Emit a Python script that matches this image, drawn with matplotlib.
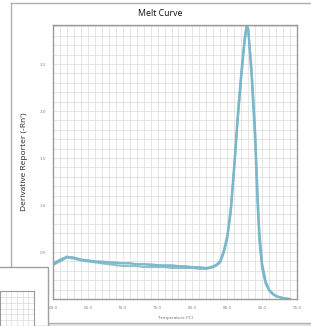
import numpy as np
import matplotlib.pyplot as plt
from matplotlib.patches import Rectangle
from matplotlib.ticker import MultipleLocator

# --- melt curve replicates ---
temps = [60, 61, 62, 63, 64, 65, 66, 67, 68, 69, 70, 71, 72, 73, 74, 75, 76, 77,
         78, 79, 80, 81, 82, 82.5, 83, 83.5, 84, 84.5, 85, 85.5, 86, 86.5, 87,
         87.5, 87.8, 88, 88.5, 89, 89.3, 89.6, 90, 90.5, 91, 91.5, 92, 93, 94]

rep_a = [0.37, 0.41, 0.45, 0.44, 0.42, 0.41, 0.40, 0.39, 0.39, 0.38, 0.38, 0.38,
         0.37, 0.37, 0.37, 0.36, 0.36, 0.36, 0.35, 0.35, 0.34, 0.34, 0.33, 0.34,
         0.35, 0.37, 0.41, 0.52, 0.68, 0.98, 1.45, 1.98, 2.42, 2.80, 2.93, 2.86,
         2.33, 1.65, 1.05, 0.60, 0.32, 0.16, 0.09, 0.05, 0.03, 0.01, 0.00]

rep_b = [0.36, 0.40, 0.44, 0.43, 0.41, 0.40, 0.39, 0.38, 0.37, 0.36, 0.35, 0.35,
         0.35, 0.34, 0.34, 0.34, 0.34, 0.33, 0.33, 0.33, 0.33, 0.32, 0.32, 0.33,
         0.34, 0.36, 0.40, 0.50, 0.65, 0.94, 1.40, 1.92, 2.37, 2.76, 2.90, 2.87,
         2.40, 1.74, 1.15, 0.68, 0.36, 0.18, 0.10, 0.06, 0.03, 0.01, 0.00]

rep_c = [0.38, 0.42, 0.45, 0.44, 0.42, 0.41, 0.40, 0.40, 0.39, 0.39, 0.38, 0.38,
         0.37, 0.37, 0.36, 0.36, 0.35, 0.35, 0.35, 0.34, 0.34, 0.33, 0.33, 0.33,
         0.34, 0.36, 0.39, 0.49, 0.64, 0.92, 1.38, 1.90, 2.35, 2.74, 2.89, 2.88,
         2.44, 1.80, 1.22, 0.73, 0.38, 0.19, 0.10, 0.06, 0.03, 0.01, 0.00]

x_ticks = [60, 65, 70, 75, 80, 85, 90, 95]
y_ticks = [0.5, 1.0, 1.5, 2.0, 2.5]

W, H = 311, 326
fig = plt.figure(figsize=(W / 100, H / 100), dpi=100)
fig.patch.set_facecolor('white')

def fx(px):
    return px / W

def fy(py):
    return 1 - py / H

# window frame pieces behind the chart
fig.patches.append(Rectangle((0, 0), 1, fy(323), transform=fig.transFigure,
                             facecolor='#e4e4e4', edgecolor='none', zorder=0))
fig.add_artist(plt.Line2D([fx(11), 1], [fy(3), fy(3)], color='#b0b0b0', lw=1))
fig.add_artist(plt.Line2D([fx(11), fx(11)], [fy(3), fy(323)], color='#b0b0b0', lw=1))
fig.add_artist(plt.Line2D([fx(11), 1], [fy(323), fy(323)], color='#b0b0b0', lw=1))

fig.text(fx(160), fy(13), 'Melt Curve', ha='center', va='center',
         fontsize=6.3, family='Open Sans', color='#111111')

ax = fig.add_axes([fx(53), fy(299), fx(297) - fx(53), fy(25) - fy(299)])
ax.set_xlim(60, 95)
ax.set_ylim(0, 2.915)

line_col = '#7ab7cb'
for reps in (rep_a, rep_b, rep_c):
    ax.plot(temps, reps, color=line_col, lw=1.5, alpha=0.85, solid_capstyle='round')

ax.set_xticks(x_ticks)
ax.set_xticklabels([f'{t:.1f}' for t in x_ticks])
ax.set_yticks(y_ticks)
ax.set_yticklabels([f'{v:.1f}' for v in y_ticks])
ax.xaxis.set_minor_locator(MultipleLocator(1))
ax.yaxis.set_minor_locator(MultipleLocator(0.1))
ax.grid(True, which='both', color='#e0e0e0', lw=0.6)
ax.set_axisbelow(True)
ax.tick_params(which='both', length=0, labelsize=3, colors='#888888', pad=5)
for s in ax.spines.values():
    s.set_color('#9a9a9a')
    s.set_linewidth(1)

ax.set_xlabel('Temperature (°C)', fontsize=3.2, color='#666666', labelpad=4,
              family='Open Sans')
fig.text(fx(25), fy(162), "Derivative Reporter (-Rn')", rotation=90,
         ha='center', va='center', fontsize=6, family='Open Sans', color='#222222')

# overlapping window in the lower-left corner
fig.patches.append(Rectangle((fx(-2), 0), fx(50), fy(267), transform=fig.transFigure,
                             facecolor='white', edgecolor='#a0a0a0', lw=1, zorder=5))
inset = fig.add_axes([0, 0, fx(34), fy(291)], zorder=6)
inset.set_xlim(0, 6)
inset.set_ylim(0, 6)
inset.set_xticks([])
inset.set_yticks([])
inset.xaxis.set_minor_locator(MultipleLocator(1))
inset.yaxis.set_minor_locator(MultipleLocator(1))
inset.grid(True, which='minor', color='#e0e0e0', lw=0.6)
inset.tick_params(which='both', length=0)
for s in inset.spines.values():
    s.set_color('#9a9a9a')

fig.savefig('out.png', dpi=100)
